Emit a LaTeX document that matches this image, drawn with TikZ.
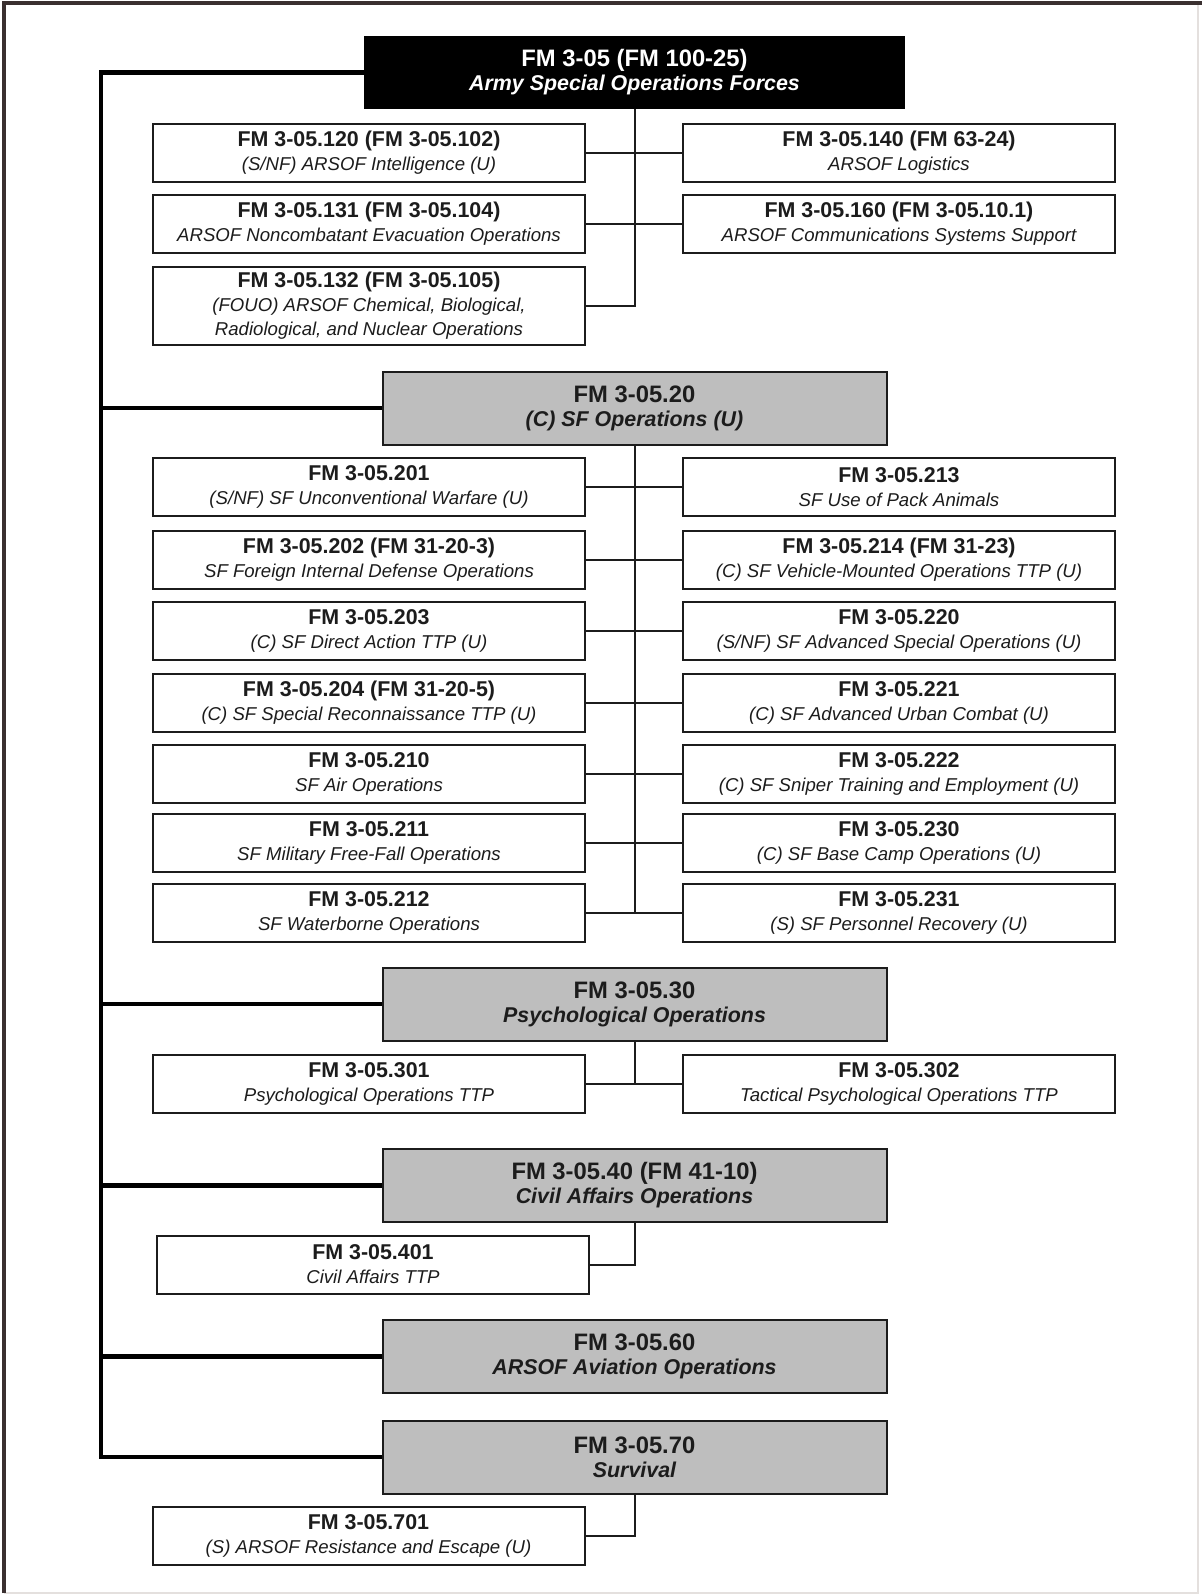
\documentclass[tikz,border=0pt]{standalone}
\usepackage{fontspec}
\setmainfont{Liberation Sans}
\definecolor{ink}{HTML}{1C1C1C}
\definecolor{boxgray}{HTML}{BEBEBE}
\definecolor{framedark}{HTML}{3A3030}
\definecolor{framelight}{HTML}{E4E0DE}
\newcommand\subfnt{\fontsize{9.3}{10.6}\selectfont\mdseries\itshape}
\newcommand\kidtext[2]{\fontsize{10.7}{10.6}\selectfont\bfseries #1\\\subfnt #2}
\newcommand\sectext[2]{\fontsize{11.9}{12.5}\selectfont\bfseries #1\\\fontsize{10.7}{12.5}\selectfont\bfseries\itshape #2}
\tikzset{
  kid/.style={draw=ink, line width=1pt, fill=white, text=ink, minimum width=216pt, minimum height=29pt, inner sep=0pt, align=center},
  sec/.style={kid, fill=boxgray, minimum width=252pt, minimum height=36.5pt},
  rootbox/.style={sec, draw=black, fill=black, text=white, minimum width=269.5pt, minimum height=35.5pt},
  link/.style={draw=ink, line width=1pt},
  trunk/.style={draw=black, line width=2.2pt, line join=miter},
}
\begin{document}
\begin{tikzpicture}[x=0.5pt,y=-0.5pt]
\useasboundingbox (0,0) rectangle (1202,1595);
\fill[white] (0,0) rectangle (1202,1595);
% frame
\draw[framelight, line width=1pt] (1198,3) -- (1198,1593) -- (4,1593);
\draw[framedark, line width=1.6pt] (4,1593) -- (4,3) -- (1202,3);

% root
\node[rootbox] (root) at (634.5,72.5) {\sectext{FM 3-05 (FM 100-25)}{Army Special Operations Forces}};

% section A
\node[kid] (a1) at (369,153) {\kidtext{FM 3-05.120 (FM 3-05.102)}{(S/NF) ARSOF Intelligence (U)}};
\node[kid] (a2) at (369,223.5) {\kidtext{FM 3-05.131 (FM 3-05.104)}{ARSOF Noncombatant Evacuation Operations}};
\node[kid, minimum height=39pt] (a3) at (369,306) {\kidtext{FM 3-05.132 (FM 3-05.105)}{(FOUO) ARSOF Chemical, Biological,\\\subfnt Radiological, and Nuclear Operations}};
\node[kid] (b1) at (899,153) {\kidtext{FM 3-05.140 (FM 63-24)}{ARSOF Logistics}};
\node[kid] (b2) at (899,223.5) {\kidtext{FM 3-05.160 (FM 3-05.10.1)}{ARSOF Communications Systems Support}};

% SF
\node[sec] (sf) at (634.5,408) {\sectext{FM 3-05.20}{(C) SF Operations (U)}};
\node[kid] (s1) at (369,487) {\kidtext{FM 3-05.201}{(S/NF) SF Unconventional Warfare (U)}};
\node[kid] (s2) at (369,559.5) {\kidtext{FM 3-05.202 (FM 31-20-3)}{SF Foreign Internal Defense Operations}};
\node[kid] (s3) at (369,630.5) {\kidtext{FM 3-05.203}{(C) SF Direct Action TTP (U)}};
\node[kid] (s4) at (369,702.5) {\kidtext{FM 3-05.204 (FM 31-20-5)}{(C) SF Special Reconnaissance TTP (U)}};
\node[kid] (s5) at (369,773.5) {\kidtext{FM 3-05.210}{SF Air Operations}};
\node[kid] (s6) at (369,842.5) {\kidtext{FM 3-05.211}{SF Military Free-Fall Operations}};
\node[kid] (s7) at (369,913) {\kidtext{FM 3-05.212}{SF Waterborne Operations}};
\node[kid] (t1) at (899,487) {\kidtext{FM 3-05.213}{SF Use of Pack Animals}};
\node[kid] (t2) at (899,559.5) {\kidtext{FM 3-05.214 (FM 31-23)}{(C) SF Vehicle-Mounted Operations TTP (U)}};
\node[kid] (t3) at (899,630.5) {\kidtext{FM 3-05.220}{(S/NF) SF Advanced Special Operations (U)}};
\node[kid] (t4) at (899,702.5) {\kidtext{FM 3-05.221}{(C) SF Advanced Urban Combat (U)}};
\node[kid] (t5) at (899,773.5) {\kidtext{FM 3-05.222}{(C) SF Sniper Training and Employment (U)}};
\node[kid] (t6) at (899,842.5) {\kidtext{FM 3-05.230}{(C) SF Base Camp Operations (U)}};
\node[kid] (t7) at (899,913) {\kidtext{FM 3-05.231}{(S) SF Personnel Recovery (U)}};

% Psych
\node[sec] (ps) at (634.5,1004) {\sectext{FM 3-05.30}{Psychological Operations}};
\node[kid] (p1) at (369,1084) {\kidtext{FM 3-05.301}{Psychological Operations TTP}};
\node[kid] (p2) at (899,1084) {\kidtext{FM 3-05.302}{Tactical Psychological Operations TTP}};

% CA
\node[sec] (ca) at (634.5,1185.5) {\sectext{FM 3-05.40 (FM 41-10)}{Civil Affairs Operations}};
\node[kid] (c1) at (373,1264.5) {\kidtext{FM 3-05.401}{Civil Affairs TTP}};

% Aviation
\node[sec] (av) at (634.5,1356.5) {\sectext{FM 3-05.60}{ARSOF Aviation Operations}};

% Survival
\node[sec] (sv) at (634.5,1457) {\sectext{FM 3-05.70}{Survival}};
\node[kid] (v1) at (368.5,1536) {\kidtext{FM 3-05.701}{(S) ARSOF Resistance and Escape (U)}};

% trunk
\coordinate (tx) at (101,72.5);
\draw[trunk] (root.west) -- (tx) -- (tx |- sv.west) -- (sv.west);
\foreach \n in {sf,ps,ca,av}{\draw[trunk] (tx |- \n.west) -- (\n.west);}

% section links
\draw[link] (root.south) -- (root.south |- a3.east) -- (a3.east);
\draw[link] (a1.east) -- (b1.west);
\draw[link] (a2.east) -- (b2.west);

\draw[link] (sf.south) -- (sf.south |- s7.east);
\foreach \i in {1,...,7}{\draw[link] (s\i.east) -- (t\i.west);}

\draw[link] (ps.south) -- (ps.south |- p1.east);
\draw[link] (p1.east) -- (p2.west);

\draw[link] (ca.south) |- (c1.east);
\draw[link] (sv.south) |- (v1.east);
\end{tikzpicture}
\end{document}
